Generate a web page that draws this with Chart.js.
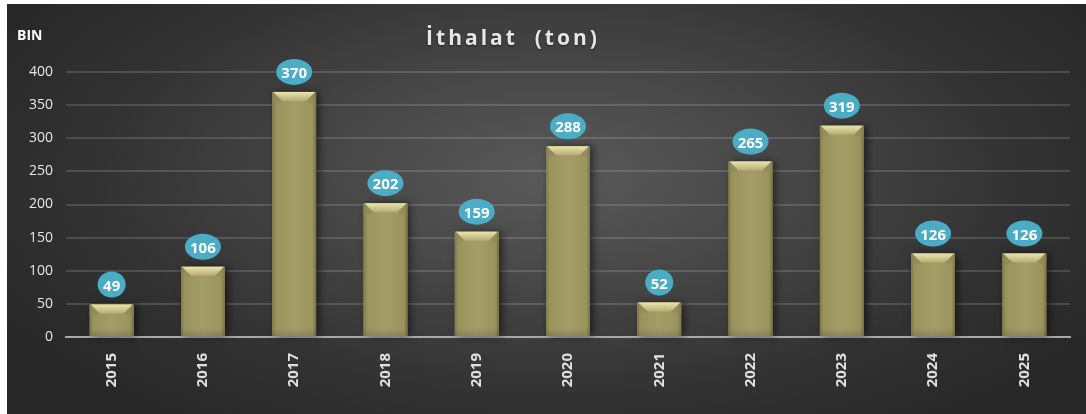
<!DOCTYPE html>
<html>
<head>
<meta charset="utf-8">
<script src="https://cdn.jsdelivr.net/npm/chart.js@4/dist/chart.umd.min.js"></script>
<style>
    html, body { margin: 0; padding: 0; background: #fff; }
    body { width: 1086px; height: 414px; position: relative; overflow: hidden; }
    #panel {
        position: absolute; left: 7px; top: 4px; width: 1079px; height: 410px;
        background: radial-gradient(ellipse 60% 75% at 51% 42%, #5a5a5a 0%, #474747 35%, #333 70%, #272727 100%);
        font-family: "Open Sans", "DejaVu Sans", sans-serif;
    }
    #title {
        position: absolute; left: 0; width: 1012px; top: 19px; text-align: center;
        color: #e6e6e6; font-weight: bold; font-size: 21px; letter-spacing: 3px;
        text-shadow: 0 1px 2px rgba(0,0,0,0.5);
    }
    #unit {
        position: absolute; left: 10px; top: 21px; color: #fff; font-weight: bold; font-size: 14px;
    }
    canvas { position: absolute; left: 0; top: 0; }
</style>
</head>
<body>
<div id="panel">
    <canvas id="chart" width="1079" height="410"></canvas>
    <div id="title">İthalat &nbsp;(ton)</div>
    <div id="unit">BIN</div>
</div>
<script>
// data
const years = ['2015', '2016', '2017', '2018', '2019', '2020', '2021', '2022', '2023', '2024', '2025'];
const importValues = [49, 106, 370, 202, 159, 288, 52, 265, 319, 126, 126];
const yTicks = [0, 50, 100, 150, 200, 250, 300, 350, 400];

// glossy olive bars + bevel on top
const barStyle = {
    id: 'barStyle',
    beforeDatasetsDraw(chart) {
        const ctx = chart.ctx;
        chart.getDatasetMeta(0).data.forEach(bar => {
            const w = bar.width;
            ctx.save();
            ctx.shadowColor = 'rgba(0,0,0,0.55)';
            ctx.shadowBlur = 8;
            ctx.shadowOffsetX = 3;
            ctx.fillStyle = '#6f6a40';
            ctx.fillRect(bar.x - w / 2, bar.y, w, bar.base - bar.y);
            ctx.restore();
        });
    },
    afterDatasetsDraw(chart) {
        const ctx = chart.ctx;
        chart.getDatasetMeta(0).data.forEach(bar => {
            const w = bar.width;
            const left = bar.x - w / 2;
            const h = bar.base - bar.y;
            ctx.save();
            const g = ctx.createLinearGradient(left, 0, left + w, 0);
            g.addColorStop(0, '#807a49');
            g.addColorStop(0.08, '#99935d');
            g.addColorStop(0.5, '#a39d68');
            g.addColorStop(0.92, '#9a945e');
            g.addColorStop(1, '#777245');
            ctx.fillStyle = g;
            ctx.fillRect(left, bar.y, w, h);

            // top bevel
            const bev = Math.min(9, h);
            const gt = ctx.createLinearGradient(0, bar.y, 0, bar.y + bev);
            gt.addColorStop(0, '#eee5ad');
            gt.addColorStop(1, '#b3ac74');
            ctx.fillStyle = gt;
            ctx.beginPath();
            ctx.moveTo(left + 1, bar.y);
            ctx.lineTo(left + w - 1, bar.y);
            ctx.lineTo(left + w - 10, bar.y + bev);
            ctx.lineTo(left + 10, bar.y + bev);
            ctx.closePath();
            ctx.fill();

            // soft bevel sides
            ctx.fillStyle = 'rgba(140,134,88,0.45)';
            ctx.beginPath();
            ctx.moveTo(left, bar.y);
            ctx.lineTo(left + 10, bar.y + bev);
            ctx.lineTo(left, bar.y + bev + 3);
            ctx.closePath();
            ctx.fill();
            ctx.beginPath();
            ctx.moveTo(left + w, bar.y);
            ctx.lineTo(left + w - 10, bar.y + bev);
            ctx.lineTo(left + w, bar.y + bev + 3);
            ctx.closePath();
            ctx.fill();

            // bottom slight fade
            const gb = ctx.createLinearGradient(0, bar.base - 8, 0, bar.base);
            gb.addColorStop(0, 'rgba(0,0,0,0)');
            gb.addColorStop(1, 'rgba(0,0,0,0.12)');
            ctx.fillStyle = gb;
            ctx.fillRect(left, bar.base - 8, w, 8);
            ctx.restore();
        });
    }
};

// teal ellipse value labels
const valueBubbles = {
    id: 'valueBubbles',
    afterDatasetsDraw(chart) {
        const ctx = chart.ctx;
        const data = chart.data.datasets[0].data;
        chart.getDatasetMeta(0).data.forEach((bar, i) => {
            const txt = String(data[i]);
            const cx = bar.x;
            const cy = bar.y - 20;
            const rx = txt.length > 2 ? 18 : 14;
            const ry = 13;
            ctx.save();
            ctx.fillStyle = '#4aacc5';
            ctx.beginPath();
            ctx.ellipse(cx, cy, rx, ry, 0, 0, Math.PI * 2);
            ctx.fill();
            ctx.fillStyle = '#ffffff';
            ctx.font = 'bold 15px "Open Sans", "DejaVu Sans", sans-serif';
            ctx.textAlign = 'center';
            ctx.textBaseline = 'middle';
            ctx.fillText(txt, cx, cy + 2);
            ctx.restore();
        });
    }
};

const ctx = document.getElementById('chart').getContext('2d');
new Chart(ctx, {
    type: 'bar',
    data: {
        labels: years,
        datasets: [{
            label: 'İthalat',
            data: importValues,
            backgroundColor: '#9e9862',
            borderWidth: 0,
            categoryPercentage: 1,
            barPercentage: 0.48
        }]
    },
    options: {
        responsive: false,
        animation: false,
        layout: { padding: { top: 68, right: 16, left: 0, bottom: 0 } },
        plugins: { legend: { display: false }, tooltip: { enabled: false } },
        scales: {
            x: {
                grid: { display: false, drawTicks: false },
                border: { display: true, color: '#a9a9a9', width: 2 },
                ticks: {
                    color: '#e0e0e0',
                    font: { family: '"Open Sans", "DejaVu Sans", sans-serif', size: 15, weight: 'bold' },
                    minRotation: 90, maxRotation: 90, padding: 16
                },
                afterFit(scale) { scale.height = 77; }
            },
            y: {
                min: 0, max: 400,
                afterBuildTicks(scale) { scale.ticks = yTicks.map(v => ({ value: v })); },
                grid: { color: 'rgba(255,255,255,0.14)', lineWidth: 2, drawTicks: false },
                border: { display: false },
                ticks: {
                    color: '#e6e6e6',
                    font: { family: '"Open Sans", "DejaVu Sans", sans-serif', size: 14 },
                    padding: 13
                },
                afterFit(scale) { scale.width = 59; }
            }
        }
    },
    plugins: [barStyle, valueBubbles]
});
</script>
</body>
</html>
